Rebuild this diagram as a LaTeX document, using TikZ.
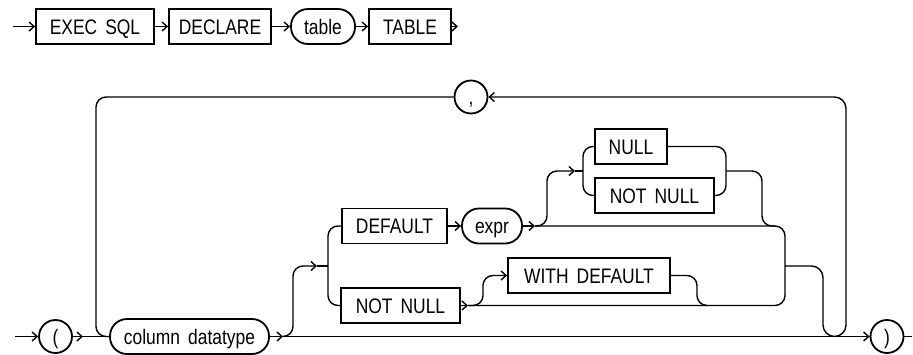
\documentclass[tikz,border=0pt]{standalone}
\usepackage{fontspec}
\setmainfont[FakeStretch=0.83]{Liberation Sans}
\usetikzlibrary{arrows.meta}
\newcommand\wgap{\hspace{8pt}}
\begin{document}
\begin{tikzpicture}[x=1pt,y=-1pt]
\tikzset{
 conn/.style={line width=1.4pt, line join=round},
 arr/.style={-{Straight Barb[length=5pt,width=9pt]}},
 kw/.style={draw, line width=1.8pt, rectangle, minimum height=35pt, inner sep=0pt,
   text height=15.3pt, text depth=0pt, font=\fontsize{21}{25}\selectfont},
 var/.style={kw, rounded corners=17pt},
 sym/.style={kw, circle, minimum size=33pt},
}
\useasboundingbox (0,0) rectangle (913,354);

% top row
\node[kw, minimum width=118pt] (exec) at (95,26.5) {EXEC\wgap SQL};
\node[kw, minimum width=102pt] (decl) at (220,26.5) {DECLARE};
\node[var, minimum width=64pt] (tname) at (323,26.5) {table};
\node[kw, minimum width=82pt] (tbl) at (410,26.5) {TABLE};
\coordinate (s1) at (13,26.5);
\coordinate (e1) at (458,26.5);
\draw[conn,arr] (s1) -- (exec);
\draw[conn,arr] (exec) -- (decl);
\draw[conn,arr] (decl) -- (tname);
\draw[conn,arr] (tname) -- (tbl);
\draw[conn,arr] (tbl) -- (e1);

% bottom nodes
\node[sym] (lp) at (55.5,336.5) {(};
\node[var, minimum width=159pt] (coldt) at (189.5,336.5) {column\wgap datatype};
\node[kw, minimum width=105pt] (dflt) at (394.5,226) {DEFAULT};
\node[var, minimum width=60pt] (expr) at (492,226) {expr};
\node[kw, minimum width=119pt] (nn1) at (400.5,305.5) {NOT\wgap NULL};
\node[kw, minimum width=72pt] (null) at (631,146.5) {NULL};
\node[kw, minimum width=119pt] (nn2) at (654.5,195.5) {NOT\wgap NULL};
\node[kw, minimum width=162pt] (wd) at (589,275.5) {WITH\wgap DEFAULT};
\node[sym] (cm) at (471,97) {,};
\node[sym] (rp) at (887,336.5) {)};

\coordinate (s2) at (15,336.5);
\coordinate (e2) at (912,336.5);
\coordinate (a1) at (83,336.5);
\coordinate (a2) at (283,336.5);
\coordinate (a3) at (535,226);
\coordinate (a4) at (468,305.5);
\coordinate (b1) at (317,266);
\coordinate (b2) at (575,171);

% main line
\draw[conn,arr] (s2) -- (lp);
\draw[conn] (lp) -- (coldt);
\draw[conn,arr] (lp) -- (a1);
\draw[conn,arr] (coldt) -- (a2);
\draw[conn,arr] (a2) -- (rp);
\draw[conn] (rp) -- (e2);

% repeat loop
\draw[conn,rounded corners=10pt] (cm) -- (96,97) -- (96,336.5) -- (coldt.west);
\draw[conn,rounded corners=11.5pt,arr] (785,266) -- (823,266) -- (823,336.5) -- (846,336.5) -- (846,97) -- (cm.east);

% choice 1
\draw[conn,rounded corners=10pt,arr] (a2) -- (293,336.5) -- (293,266) -- (b1);
\draw[conn] (b1) -- (328,266);
\draw[conn,rounded corners=10pt] (dflt.west) -- (328,226) -- (328,305.5) -- (nn1.west);
\draw[conn,arr] (dflt) -- (expr);
\draw[conn,arr] (expr) -- (a3);
\draw[conn,arr] (nn1) -- (a4);
\draw[conn,rounded corners=10pt] (a3) -- (785,226) -- (785,305.5) -- (a4);

% NULL / NOT NULL
\draw[conn,rounded corners=10pt,arr] (a3) -- (547,226) -- (547,171) -- (b2);
\draw[conn] (b2) -- (583,171);
\draw[conn,rounded corners=10pt] (null.west) -- (583,146.5) -- (583,195.5) -- (nn2.west);
\draw[conn,rounded corners=10pt] (null.east) -- (726,146.5) -- (726,195.5) -- (nn2.east);
\draw[conn,rounded corners=10pt] (726,171) -- (762,171) -- (762,226) -- (775,226);

% WITH DEFAULT
\draw[conn,rounded corners=10pt,arr] (a4) -- (483,305.5) -- (483,275.5) -- (wd.west);
\draw[conn,rounded corners=10pt] (wd.east) -- (697,275.5) -- (697,305.5) -- (707,305.5);
\end{tikzpicture}
\end{document}
